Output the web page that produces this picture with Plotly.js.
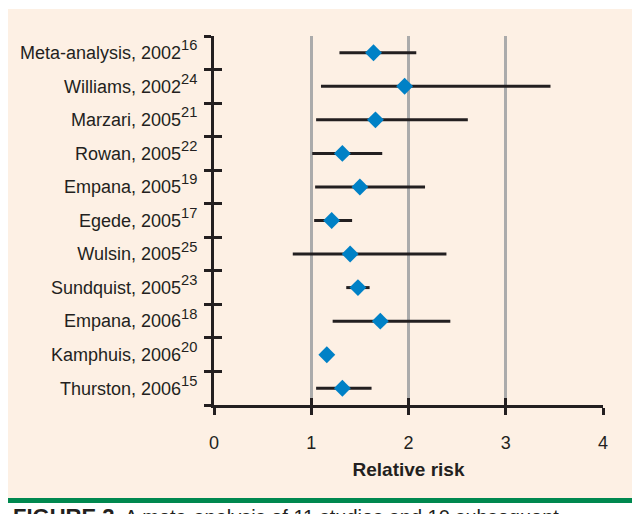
<!DOCTYPE html>
<html>
<head>
<meta charset="utf-8">
<script src="https://cdn.plot.ly/plotly-3.0.1.min.js"></script>
<style>html,body{margin:0;padding:0;background:#fff;}#chart{width:632px;height:514px;}</style>
</head>
<body>
<div id="chart"></div>
<script>
// Study labels (top to bottom) with reference numbers
const studies = ["Meta-analysis, 2002", "Williams, 2002", "Marzari, 2005", "Rowan, 2005", "Empana, 2005",
  "Egede, 2005", "Wulsin, 2005", "Sundquist, 2005", "Empana, 2006", "Kamphuis, 2006", "Thurston, 2006"];
const refs = ["16", "24", "21", "22", "19", "17", "25", "23", "18", "20", "15"];
// Relative risk point estimates and 95% CI
const rr    = [1.64, 1.96, 1.66, 1.32, 1.50, 1.21, 1.40, 1.48, 1.71, 1.16, 1.32];
const lower = [1.29, 1.10, 1.05, 1.01, 1.04, 1.03, 0.81, 1.36, 1.22, null, 1.05];
const upper = [2.08, 3.46, 2.61, 1.73, 2.17, 1.42, 2.39, 1.60, 2.43, null, 1.62];
const xTicks = [0, 1, 2, 3, 4];

const rows = studies.map((s, i) => i + 1);
const labels = studies.map((s, i) => s + "<span style='font-size:21px'><sup>" + refs[i] + "</sup></span>");
const boundaries = [];
for (let i = 0; i <= studies.length; i++) boundaries.push(i + 0.5);

const errPlus = rr.map((v, i) => upper[i] == null ? 0 : upper[i] - v);
const errMinus = rr.map((v, i) => lower[i] == null ? 0 : v - lower[i]);

const ink = "#231F20";
const fontFam = "Liberation Sans, Arial, sans-serif";

const traces = [
  {
    type: "scatter", mode: "markers",
    x: rr, y: rows,
    marker: {symbol: "diamond", size: 13, color: "#0081C6"},
    error_x: {type: "data", symmetric: false, array: errPlus, arrayminus: errMinus,
              color: ink, thickness: 3, width: 0},
    showlegend: false, hoverinfo: "x+y"
  },
  {
    type: "scatter", mode: "markers", x: [null], y: [null],
    xaxis: "x2", yaxis: "y2", showlegend: false, hoverinfo: "skip"
  }
];

const L = 214, R = 603, T = 36, B = 405;
const px2x = p => (p - L) / (R - L);
const py2y = p => (B - p) / (B - T);

const layout = {
  width: 632, height: 514,
  margin: {l: L, r: 632 - R, t: T, b: 514 - B, pad: 0},
  paper_bgcolor: "#ffffff",
  plot_bgcolor: "rgba(0,0,0,0)",
  font: {family: fontFam, color: ink, size: 18},
  showlegend: false,
  xaxis: {
    range: [0, 4], tickvals: xTicks, ticktext: xTicks.map(String),
    ticks: "outside", ticklen: 7, tickwidth: 3, tickcolor: ink,
    showline: true, linewidth: 3, linecolor: ink,
    showgrid: true, gridcolor: "#ABABAB", gridwidth: 3, zeroline: false,
    tickfont: {size: 18, family: fontFam, color: ink},
    ticklabelstandoff: 12,
    title: {text: "<b>Relative risk</b>", font: {size: 19, family: fontFam, color: ink}, standoff: 12},
    fixedrange: true
  },
  xaxis2: {
    overlaying: "x", anchor: "y", range: [0, 4], tickvals: xTicks,
    ticks: "inside", ticklen: 7, tickwidth: 3, tickcolor: ink,
    showticklabels: false, showgrid: false, zeroline: false, showline: false
  },
  yaxis: {
    range: [studies.length + 0.5, 0.5],
    tickvals: rows, ticktext: labels, ticks: "",
    showline: true, linewidth: 3, linecolor: ink,
    showgrid: false, zeroline: false,
    tickfont: {size: 18, family: fontFam, color: ink},
    ticklabelstandoff: 10,
    minor: {tickmode: "array", tickvals: boundaries, ticks: "outside", ticklen: 7, tickwidth: 3, tickcolor: ink, showgrid: false},
    fixedrange: true
  },
  yaxis2: {
    overlaying: "y", anchor: "x", range: [studies.length + 0.5, 0.5],
    tickvals: boundaries, ticks: "inside", ticklen: 8, tickwidth: 3, tickcolor: ink,
    showticklabels: false, showgrid: false, zeroline: false, showline: false
  },
  shapes: [
    {type: "rect", xref: "paper", yref: "paper", layer: "below",
     x0: px2x(8), x1: px2x(640), y0: py2y(498), y1: py2y(9),
     fillcolor: "#FDF0E4", line: {width: 0}},
    {type: "rect", xref: "paper", yref: "paper", layer: "below",
     x0: px2x(8), x1: px2x(640), y0: py2y(503), y1: py2y(498),
     fillcolor: "#00884F", line: {width: 0}}
  ],
  annotations: [
    {xref: "paper", yref: "paper", x: px2x(11), y: py2y(502), xanchor: "left", yanchor: "top",
     showarrow: false, align: "left",
     text: "<span style='font-size:22px'><b>FIGURE 2</b></span>  A meta-analysis of 11 studies and 10 subsequent",
     font: {size: 20, family: fontFam, color: ink}}
  ]
};

Plotly.newPlot("chart", traces, layout, {displayModeBar: false, staticPlot: true});
</script>
</body>
</html>
